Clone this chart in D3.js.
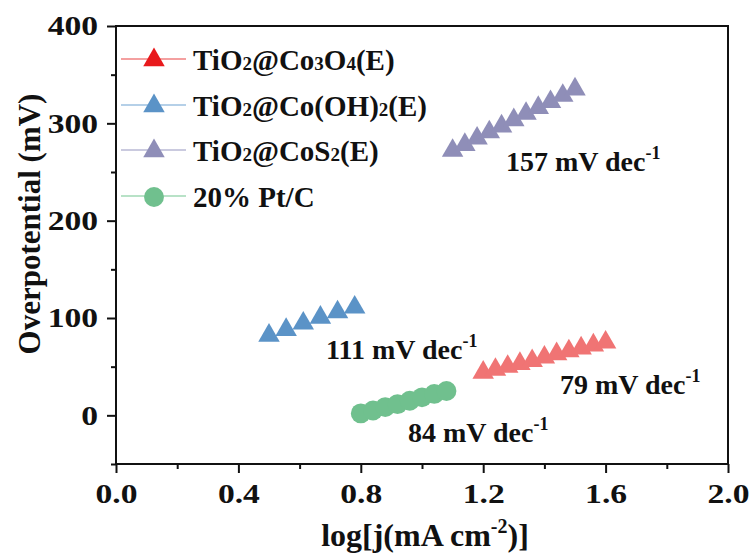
<!DOCTYPE html>
<html>
<head>
<meta charset="utf-8">
<script src="https://cdn.jsdelivr.net/npm/d3@7"></script>
<style>
  body { margin: 0; background: #fff; }
  text { font-family: "Liberation Serif", "Times New Roman", serif; font-weight: bold; fill: #111; }
</style>
</head>
<body>
<svg id="chart" width="755" height="559"></svg>
<script>
// Tafel data

const co3o4_x = [1.20, 1.24, 1.28, 1.32, 1.36, 1.40, 1.44, 1.48, 1.52, 1.56, 1.60];
const co3o4_y = [44, 47, 50, 53, 56, 59.5, 63, 66, 69, 72, 75];

const cooh_x = [0.50, 0.556, 0.612, 0.668, 0.724, 0.78];
const cooh_y = [82, 88, 94.5, 100.5, 106, 111];

const cos2_x = [1.10, 1.14, 1.18, 1.22, 1.26, 1.30, 1.34, 1.38, 1.42, 1.46, 1.50];
const cos2_y = [272, 278, 284.5, 291, 297, 303.5, 310, 316, 322, 328.5, 335];

const ptc_x = [0.80, 0.84, 0.88, 0.92, 0.96, 1.00, 1.04, 1.08];
const ptc_y = [2, 5, 8.5, 11.5, 15, 18.5, 22, 25];

const x_ticks = [0.0, 0.4, 0.8, 1.2, 1.6, 2.0];
const y_ticks = [0, 100, 200, 300, 400];

const slope_labels = ["157", "111", "79", "84"];

const series = [
  { name: ["TiO", ["2"], "@Co", ["3"], "O", ["4"], "(E)"], xs: co3o4_x, ys: co3o4_y, shape: "tri", color: "#f07474", legColor: "#e8191c", lineColor: "#f08080" },
  { name: ["TiO", ["2"], "@Co(OH)", ["2"], "(E)"], xs: cooh_x, ys: cooh_y, shape: "tri", color: "#5b93c7", legColor: "#5b93c7", lineColor: "#9cc0e0" },
  { name: ["TiO", ["2"], "@CoS", ["2"], "(E)"], xs: cos2_x, ys: cos2_y, shape: "tri", color: "#8f8eb8", legColor: "#8f8eb8", lineColor: "#b8b8d4" },
  { name: ["20% Pt/C"], xs: ptc_x, ys: ptc_y, shape: "circ", color: "#70c08e", legColor: "#70c08e", lineColor: "#a0d8b4" }
];

const svg = d3.select("#chart");
const L = 116, R = 728, T = 26, B = 464;

const x = d3.scaleLinear().domain([0, 2]).range([L, R]);
const y = d3.scaleLinear().domain([-50, 400]).range([B, T]);

// frame
svg.append("rect").attr("x", L).attr("y", T).attr("width", R - L).attr("height", B - T)
  .attr("fill", "none").attr("stroke", "#111").attr("stroke-width", 2);

// axes
const xAxis = d3.axisBottom(x).tickValues(x_ticks).tickFormat(d3.format(".1f")).tickSize(9).tickSizeOuter(0);
const xMinor = d3.axisBottom(x).tickValues([0.2, 0.6, 1.0, 1.4, 1.8]).tickFormat("").tickSize(5).tickSizeOuter(0);
const yAxis = d3.axisLeft(y).tickValues(y_ticks).tickFormat(d3.format("d")).tickSize(9).tickSizeOuter(0);
const yMinor = d3.axisLeft(y).tickValues([-50, 50, 150, 250, 350]).tickFormat("").tickSize(5).tickSizeOuter(0);

function styleAxis(g) {
  g.select(".domain").remove();
  g.selectAll("line").attr("stroke", "#111").attr("stroke-width", 2);
  g.selectAll("text").attr("font-size", 28).attr("font-family", "Liberation Serif").attr("font-weight", "bold").attr("fill", "#111");
}

svg.append("g").attr("transform", `translate(0,${B})`).call(xAxis).call(styleAxis)
  .selectAll("text").attr("dy", "0.95em").attr("transform", "scale(1.2,1)");
svg.append("g").attr("transform", `translate(0,${B})`).call(xMinor).call(styleAxis);
svg.append("g").attr("transform", `translate(${L},0)`).call(yAxis).call(styleAxis)
  .selectAll("text").attr("x", -15).attr("dy", "0.32em").attr("transform", "scale(1.2,1)");
svg.append("g").attr("transform", `translate(${L},0)`).call(yMinor).call(styleAxis);

// axis titles
const xt = svg.append("text").attr("x", 425).attr("y", 546).attr("text-anchor", "middle").attr("font-size", 32);
xt.append("tspan").text("log[j(mA cm");
xt.append("tspan").attr("font-size", 20).attr("dy", -13).text("-2");
xt.append("tspan").attr("dy", 13).text(")]");

svg.append("text").attr("transform", "translate(40,224) rotate(-90)")
  .attr("text-anchor", "middle").attr("font-size", 31).text("Overpotential (mV)");

// markers
const triSym = d3.symbol().type(d3.symbolTriangle).size(200);
const circSym = d3.symbol().type(d3.symbolCircle).size(310);

function drawMarker(g, s, px, py, fill) {
  g.append("path")
    .attr("d", s.shape === "tri" ? triSym() : circSym())
    .attr("transform", `translate(${px},${py})`)
    .attr("fill", fill);
}

series.forEach(s => {
  const g = svg.append("g");
  s.xs.forEach((xv, i) => drawMarker(g, s, x(xv), y(s.ys[i]), s.color));
});

// legend
const legY = [59, 105, 150, 196];
series.forEach((s, i) => {
  const g = svg.append("g");
  const yy = legY[i];
  g.append("line").attr("x1", 121).attr("x2", 186).attr("y1", yy).attr("y2", yy)
    .attr("stroke", s.lineColor).attr("stroke-width", 1.5);
  drawMarker(g, s, 154, yy + 1, s.legColor);
  const t = g.append("text").attr("x", 193).attr("y", yy + 11).attr("font-size", 29);
  s.name.forEach(part => {
    if (Array.isArray(part)) t.append("tspan").attr("font-size", 19).text(part[0]);
    else t.append("tspan").text(part);
  });
});

// slope labels
const slope_pos = [[506, 171], [326, 359], [560, 394], [408, 442]];
slope_labels.forEach((lab, i) => {
  const t = svg.append("text").attr("x", slope_pos[i][0]).attr("y", slope_pos[i][1]).attr("font-size", 28);
  t.append("tspan").text(lab + " mV dec");
  t.append("tspan").attr("font-size", 18).attr("dy", -12).text("-1");
});
</script>
</body>
</html>
